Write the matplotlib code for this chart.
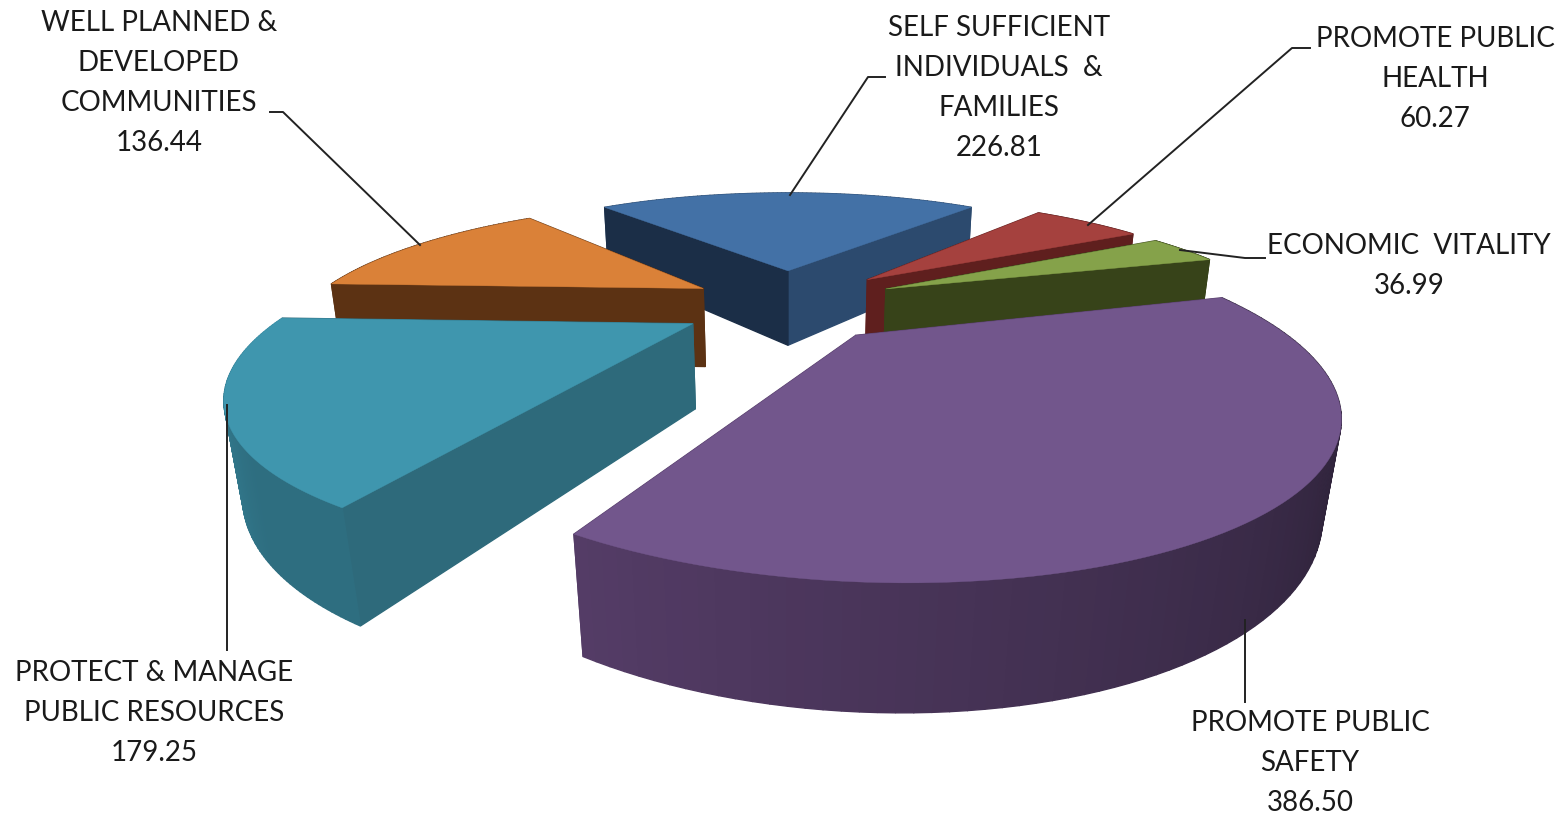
import numpy as np
import matplotlib
matplotlib.use("Agg")
import matplotlib.pyplot as plt
from matplotlib.colors import to_rgb

names = ["SELF SUFFICIENT\nINDIVIDUALS  &\nFAMILIES", "PROMOTE PUBLIC\nHEALTH", "ECONOMIC  VITALITY",
         "PROMOTE PUBLIC\nSAFETY", "PROTECT & MANAGE\nPUBLIC RESOURCES", "WELL PLANNED &\nDEVELOPED\nCOMMUNITIES"]
values = [226.81, 60.27, 36.99, 386.50, 179.25, 136.44]

# slice colours: top, cut wall at start angle, cut wall at end angle, rim start, rim end
colors = [("#4371a6", "#1b2e47", "#2c4a6e", "#2c4a6e", "#2c4a6e"),
          ("#a5413e", "#5f1f1e", "#5f1f1e", "#5f1f1e", "#5f1f1e"),
          ("#85a24a", "#374319", "#374319", "#374319", "#374319"),
          ("#72568c", "#543c66", "#543c66", "#2a2035", "#543c66"),
          ("#3f96ae", "#2e6a7b", "#2e6a7b", "#2e6e80", "#3a8ea6"),
          ("#da8138", "#5c3213", "#5c3213", "#5c3213", "#5c3213")]
draw_order = [0, 1, 2, 5, 4, 3]
explode_factor = [1, 1.12, 1.12, 1, 1.05, 1]

# camera
cx, cy = 788, 304
f = 396
tilt = np.radians(18.6)
dist = 2.62
explode_x = 0.25
explode_y = 0.29
shear = 0.01
height = 0.222
start = 129.8


def project(x, y, z):
    x = x - shear * np.minimum(y, 0)
    v = y * np.sin(tilt) + z * np.cos(tilt)
    w = y * np.cos(tilt) - z * np.sin(tilt)
    s = f / (1 + w / dist)
    return cx + x * s, cy - v * s, w


def mix(c1, c2, t):
    c1, c2 = np.array(to_rgb(c1)), np.array(to_rgb(c2))
    return tuple(c1 + (c2 - c1) * t)


fig = plt.figure(figsize=(15.59, 8.16), dpi=100)
ax = fig.add_axes([0, 0, 1, 1])
ax.set_xlim(0, 1559)
ax.set_ylim(816, 0)
ax.axis("off")

sweeps = np.array(values) / sum(values) * 360
ends = start - np.cumsum(sweeps)
begins = ends + sweeps

for i in draw_order:
    a0, a1 = np.radians(begins[i]), np.radians(ends[i])
    mid = (a0 + a1) / 2
    ox = explode_factor[i] * explode_x * np.cos(mid)
    oy = explode_factor[i] * explode_y * np.sin(mid)
    ang = np.linspace(a0, a1, 90)
    rx, ry = ox + np.cos(ang), oy + np.sin(ang)
    top, wall0, wall1, rim_a, rim_b = colors[i]
    faces = []
    # two cut walls
    for px, py, c in [(rx[0], ry[0], wall0), (rx[-1], ry[-1], wall1)]:
        xs = np.array([ox, px, px, ox])
        ys = np.array([oy, py, py, oy])
        zs = np.array([0, 0, -height, -height])
        sx, sy, w = project(xs, ys, zs)
        faces.append((w.mean(), sx, sy, c))
    # rim, shaded along the angle
    for j in range(len(ang) - 1):
        xs = np.array([rx[j], rx[j + 1], rx[j + 1], rx[j]])
        ys = np.array([ry[j], ry[j + 1], ry[j + 1], ry[j]])
        zs = np.array([0, 0, -height, -height])
        sx, sy, w = project(xs, ys, zs)
        t = max(0, (j / (len(ang) - 2) - 0.25) / 0.75)
        faces.append((w.mean(), sx, sy, mix(rim_a, rim_b, t)))
    faces.sort(key=lambda q: -q[0])
    for _, sx, sy, c in faces:
        ax.fill(sx, sy, color=c, lw=1.0)
    sx, sy, _ = project(np.r_[ox, rx], np.r_[oy, ry], np.zeros(len(rx) + 1))
    ax.fill(sx, sy, color=top, lw=0.3)

# leader lines
leaders = [([885, 868, 790], [77, 77, 195]),
           ([1310, 1292, 1088], [48, 48, 225]),
           ([1265, 1245, 1180], [258, 258, 250]),
           ([1245, 1245], [620, 702]),
           ([227, 227], [405, 650]),
           ([270, 283, 420], [112, 112, 245])]
for lx, ly in leaders:
    ax.plot(lx, ly, color="#222222", lw=1.4, zorder=5)

label_pos = [(999, 88), (1435, 79), (1409, 266), (1310, 763), (154, 713), (159, 83)]
for name, val, (x, y) in zip(names, values, label_pos):
    ax.text(x, y, name + "\n" + format(val, ".2f"), ha="center", va="center", fontsize=20,
            family="Lato", color="#1a1a1a", linespacing=1.66, zorder=6)

fig.savefig("out.png", dpi=100)
